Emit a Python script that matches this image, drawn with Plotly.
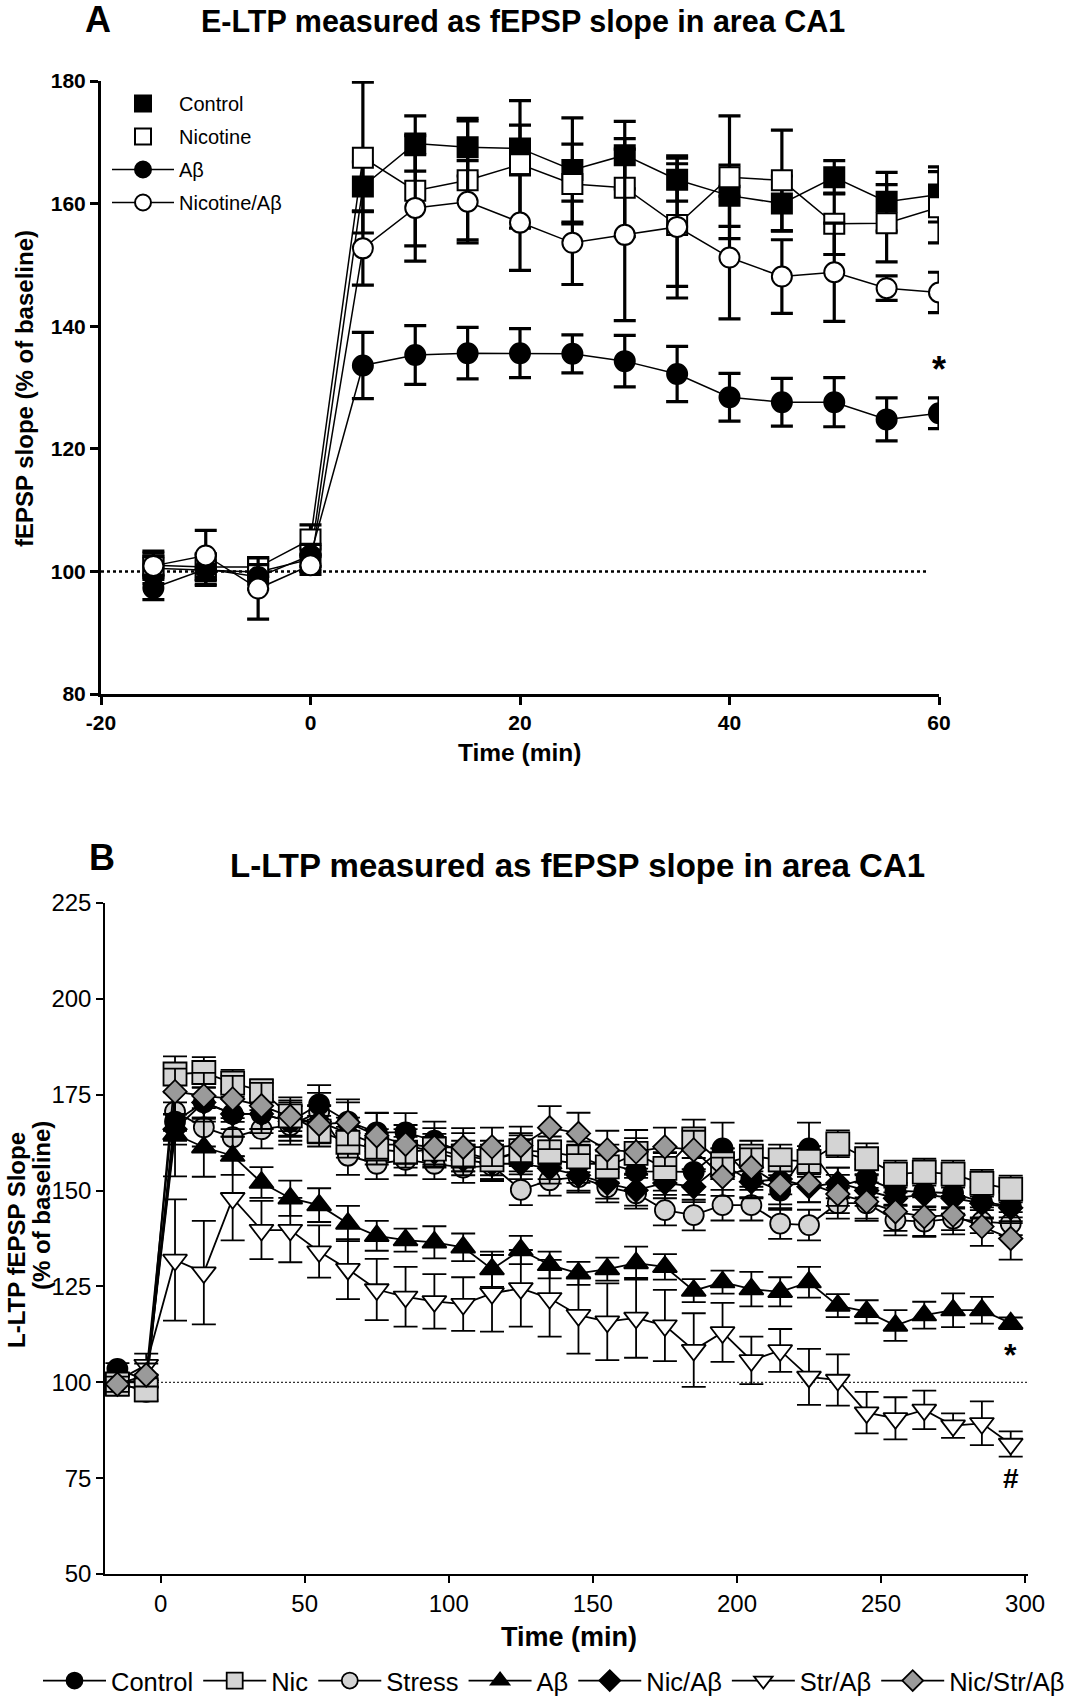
import plotly.graph_objects as go

# ---------------- Panel A data (E-LTP) ----------------
a_time = [-15, -10, -5, 0, 5, 10, 15, 20, 25, 30, 35, 40, 45, 50, 55, 60]
a_control = [100.5, 100.2, 99.9, 102.0, 162.8, 169.8, 169.2, 169.0, 165.5, 167.9, 163.9, 161.3, 160.0, 164.3, 160.3, 161.5]
a_control_err = [2.5, 2.5, 2.0, 2.0, 4.0, 4.5, 4.7, 3.8, 8.5, 5.5, 3.5, 5.0, 4.5, 2.7, 4.8, 4.5]
a_nicotine = [101.0, 100.7, 100.7, 105.2, 167.5, 162.1, 163.8, 166.4, 163.2, 162.6, 156.5, 164.3, 163.8, 156.7, 156.8, 159.4]
a_nicotine_err = [2.3, 2.0, 1.5, 2.4, 12.3, 9.0, 9.7, 10.4, 6.5, 8.0, 10.0, 10.0, 8.2, 5.0, 6.3, 5.8]
a_abeta = [97.3, 100.4, 99.1, 102.6, 133.6, 135.3, 135.6, 135.6, 135.5, 134.3, 132.2, 128.4, 127.6, 127.6, 124.8, 125.8]
a_abeta_err = [1.9, 2.5, 2.0, 1.8, 5.4, 4.8, 4.2, 4.0, 3.1, 4.2, 4.5, 3.9, 3.9, 4.0, 3.5, 2.5]
a_nic_abeta = [100.9, 102.6, 97.2, 101.0, 152.7, 159.3, 160.3, 156.9, 153.6, 154.9, 156.2, 151.2, 148.1, 148.8, 146.2, 145.5]
a_nic_abeta_err = [1.5, 4.1, 5.0, 1.5, 6.0, 8.7, 6.7, 7.8, 6.8, 14.0, 11.6, 10.0, 6.0, 8.0, 2.0, 3.3]
a_xticks = [-20, 0, 20, 40, 60]
a_xticklabels = ["-20", "0", "20", "40", "60"]
a_yticks = [80, 100, 120, 140, 160, 180]

# ---------------- Panel B data (L-LTP) ----------------
b_time = [-15, -5, 5, 15, 25, 35, 45, 55, 65, 75, 85, 95, 105, 115, 125, 135,
          145, 155, 165, 175, 185, 195, 205, 215, 225, 235, 245, 255, 265, 275, 285, 295]
b_control = [103.5, 100.5, 168.0, 173.0, 170.0, 170.0, 168.0, 172.5, 168.0, 165.2, 165.2, 163.0,
             160.0, 158.0, 160.0, 158.0, 157.0, 157.0, 155.0, 155.0, 154.9, 161.0, 153.0, 150.0,
             161.0, 151.0, 153.2, 150.0, 149.7, 149.3, 147.0, 146.0]
b_control_err = [1.5, 1.5, 5.0, 5.0, 6.0, 5.0, 5.0, 5.0, 5.0, 5.0, 5.0, 5.0, 5.0, 5.0, 5.0, 5.0,
                 5.0, 5.0, 5.0, 5.0, 6.0, 6.7, 5.0, 5.0, 6.7, 5.0, 5.0, 4.0, 4.0, 4.0, 4.0, 4.0]
b_nic = [99.5, 98.0, 180.4, 180.8, 178.0, 176.0, 169.5, 165.5, 162.6, 160.8, 160.0, 160.8,
         159.0, 158.0, 160.4, 160.1, 158.8, 156.2, 159.7, 155.8, 163.5, 157.0, 159.0, 158.0,
         157.6, 162.2, 158.3, 154.3, 154.8, 154.3, 151.9, 150.4]
b_nic_err = [3.0, 3.0, 4.6, 4.0, 3.5, 3.0, 4.0, 4.0, 4.0, 4.0, 4.0, 4.0, 4.0, 4.0, 4.0, 4.0,
             4.0, 4.0, 4.0, 4.0, 5.0, 4.0, 4.0, 4.0, 4.0, 3.5, 4.0, 3.5, 3.5, 3.5, 3.5, 3.5]
b_stress = [100.0, 97.5, 170.6, 166.5, 163.9, 166.0, 167.0, 170.5, 159.1, 157.0, 158.0, 157.0,
            156.0, 156.5, 150.2, 152.7, 153.5, 150.9, 149.3, 144.9, 143.6, 146.2, 146.2, 141.4,
            141.0, 146.7, 146.7, 142.3, 141.9, 142.7, 141.9, 141.4]
b_stress_err = [2.0, 2.0, 5.0, 5.0, 5.0, 5.0, 5.0, 5.0, 5.0, 4.0, 4.0, 4.0, 4.0, 4.0, 4.0, 4.0,
                4.0, 4.0, 4.0, 4.0, 4.0, 4.0, 4.0, 4.0, 4.0, 4.0, 4.0, 4.0, 4.0, 3.0, 3.0, 3.0]
b_abeta = [100.0, 100.0, 164.7, 161.3, 159.1, 152.1, 148.0, 146.2, 141.4, 138.2, 137.1, 136.5,
           135.2, 129.5, 134.5, 130.6, 128.4, 129.5, 131.1, 130.1, 123.9, 126.1, 124.3, 123.6,
           126.1, 120.0, 118.4, 114.8, 117.5, 118.8, 118.8, 115.4]
b_abeta_err = [1.5, 1.5, 11.0, 7.7, 5.0, 4.0, 4.6, 4.4, 4.6, 3.9, 3.0, 4.2, 3.6, 4.6, 3.7, 3.5,
               3.0, 3.0, 4.3, 3.3, 3.0, 3.0, 4.5, 3.8, 4.0, 3.0, 3.0, 4.0, 3.5, 4.4, 3.5, 1.5]
b_nic_abeta = [100.0, 100.5, 166.0, 173.0, 170.0, 170.0, 168.0, 168.0, 165.0, 162.0, 162.0, 160.0,
               158.0, 157.0, 157.0, 155.8, 154.0, 151.9, 150.1, 152.0, 151.0, 157.0, 152.3, 153.0,
               151.0, 152.0, 150.0, 148.0, 149.0, 148.0, 146.7, 145.5]
b_nic_abeta_err = [1.5, 1.5, 4.0, 4.0, 4.0, 4.0, 4.0, 4.0, 4.0, 4.0, 4.0, 4.0, 4.0, 4.0, 4.0, 4.0,
                   4.0, 4.0, 4.0, 4.0, 4.0, 4.0, 4.0, 4.0, 4.0, 4.0, 4.0, 4.0, 4.0, 4.0, 4.0, 4.0]
b_str_abeta = [100.5, 104.5, 131.9, 128.6, 148.0, 139.7, 139.7, 134.1, 129.5, 124.2, 122.3, 121.1,
               120.4, 123.2, 124.5, 121.9, 117.5, 115.8, 116.8, 114.8, 108.4, 113.0, 105.7, 108.3,
               101.4, 100.6, 92.1, 90.6, 92.8, 88.7, 89.3, 83.9]
b_str_abeta_err = [2.0, 3.0, 15.8, 13.5, 11.0, 7.6, 8.4, 6.8, 7.8, 8.0, 7.8, 7.1, 7.0, 10.0, 10.0, 10.0,
                   10.0, 10.0, 10.4, 9.3, 9.6, 7.7, 6.2, 5.6, 7.3, 6.7, 5.4, 5.5, 5.0, 3.2, 5.7, 3.3]
b_nic_str_abeta = [99.5, 101.9, 175.8, 174.7, 173.9, 172.1, 169.3, 167.3, 167.8, 164.3, 162.1, 161.3,
                   161.3, 161.4, 161.7, 166.4, 164.9, 160.6, 160.1, 161.4, 160.6, 153.6, 156.0, 151.4,
                   151.9, 149.1, 147.1, 144.5, 143.2, 143.6, 140.6, 137.5]
b_nic_str_abeta_err = [2.0, 3.0, 6.0, 6.0, 6.0, 6.0, 5.0, 5.0, 6.0, 6.0, 5.0, 5.0, 5.0, 5.0, 5.0, 5.6,
                       5.4, 5.0, 5.7, 5.0, 5.0, 5.0, 5.0, 5.0, 5.0, 5.0, 5.0, 5.0, 5.0, 5.0, 5.0, 5.5]
b_xticks = [0, 50, 100, 150, 200, 250, 300]
b_yticks = [50, 75, 100, 125, 150, 175, 200, 225]

BASELINE = 100

FONT = "Liberation Sans, Arial, Helvetica, sans-serif"
W, H = 1081, 1700


def px(x):
    return x / W


def py(y):
    return (H - y) / H


fig = go.Figure()

# ---------- Panel A traces ----------
a_series = [
    ("Control", a_control, a_control_err, "square", "black", "markers"),
    ("Nicotine", a_nicotine, a_nicotine_err, "square", "white", "markers"),
    ("A\u03b2", a_abeta, a_abeta_err, "circle", "black", "lines+markers"),
    ("Nicotine/A\u03b2", a_nic_abeta, a_nic_abeta_err, "circle", "white", "lines+markers"),
]
for name, vals, err, sym, fill, legmode in a_series:
    fig.add_trace(go.Scatter(
        x=a_time, y=vals, mode="lines+markers", name=name, showlegend=False,
        xaxis="x", yaxis="y",
        line=dict(color="black", width=1.5),
        marker=dict(symbol=sym, size=20, color=fill, line=dict(color="black", width=2)),
        error_y=dict(type="data", array=err, visible=True, color="black", thickness=3.2, width=11),
    ))
for i, (name, vals, err, sym, fill, legmode) in enumerate(a_series):
    fig.add_trace(go.Scatter(
        x=[None], y=[None], mode=legmode, name=name, legend="legend",
        legendgroup="a%d" % i, xaxis="x", yaxis="y",
        line=dict(color="black", width=1.5),
        marker=dict(symbol=sym, size=20, color=fill, line=dict(color="black", width=2)),
    ))

# ---------- Panel B traces (draw order) ----------
b_series = [
    ("Stress", b_stress, b_stress_err, "circle", "#d4d4d4", 20, 3),
    ("Control", b_control, b_control_err, "circle", "black", 20, 1),
    ("Nic/A\u03b2", b_nic_abeta, b_nic_abeta_err, "diamond", "black", 18, 5),
    ("A\u03b2", b_abeta, b_abeta_err, "triangle-up", "black", 21, 4),
    ("Str/A\u03b2", b_str_abeta, b_str_abeta_err, "triangle-down", "white", 21, 6),
    ("Nic", b_nic, b_nic_err, "square", "#d4d4d4", 23, 2),
    ("Nic/Str/A\u03b2", b_nic_str_abeta, b_nic_str_abeta_err, "diamond", "#9a9a9a", 18, 7),
]
for name, vals, err, sym, fill, size, rank in b_series:
    fig.add_trace(go.Scatter(
        x=b_time, y=vals, mode="lines+markers", name=name, legend="legend2",
        legendrank=rank, xaxis="x2", yaxis="y2",
        line=dict(color="black", width=1.8),
        marker=dict(symbol=sym, size=size, color=fill, line=dict(color="black", width=1.8)),
        error_y=dict(type="data", array=err, visible=True, color="black", thickness=1.8, width=12),
    ))

axis_common = dict(showgrid=False, zeroline=False, showline=True, linecolor="black",
                   ticks="outside", tickcolor="black", mirror=False)

fig.update_layout(
    width=W, height=H,
    margin=dict(l=0, r=0, t=0, b=0, autoexpand=False),
    paper_bgcolor="white", plot_bgcolor="white",
    font=dict(family=FONT, color="black"),
    xaxis=dict(domain=[px(101), px(939)], range=[-20, 60], anchor="y",
               tickvals=a_xticks, ticktext=a_xticklabels, linewidth=3, tickwidth=3, ticklen=8,
               tickfont=dict(size=21, family=FONT, weight="bold"), **axis_common),
    yaxis=dict(domain=[py(694), py(81)], range=[80, 180], anchor="x",
               tickvals=a_yticks, linewidth=3, tickwidth=3, ticklen=8,
               tickfont=dict(size=21, family=FONT, weight="bold"), **axis_common),
    xaxis2=dict(domain=[px(105), px(1028)], range=[-19.3, 301], anchor="y2",
                tickvals=b_xticks, linewidth=1.8, tickwidth=1.5, ticklen=7,
                tickfont=dict(size=24, family=FONT), **axis_common),
    yaxis2=dict(domain=[py(1574), py(903)], range=[50, 225], anchor="x2",
                tickvals=b_yticks, linewidth=1.5, tickwidth=1.5, ticklen=7,
                tickfont=dict(size=24, family=FONT), **axis_common),
    legend=dict(x=px(107), y=py(84), xanchor="left", yanchor="top",
                font=dict(size=20, family=FONT), bgcolor="rgba(0,0,0,0)",
                itemwidth=62, tracegroupgap=4, itemclick=False),
    legend2=dict(orientation="h", x=px(38), y=py(1681), xanchor="left", yanchor="middle",
                 font=dict(size=25.5, family=FONT), bgcolor="rgba(0,0,0,0)",
                 itemwidth=63, traceorder="normal"),
)

# reference (baseline) dotted lines
fig.add_shape(type="line", xref="x", yref="y", x0=-20, x1=59, y0=BASELINE, y1=BASELINE,
              line=dict(color="black", width=2.5, dash="dot"), layer="below")
fig.add_shape(type="line", xref="x2", yref="y2", x0=-19.3, x1=303, y0=BASELINE, y1=BASELINE,
              line=dict(color="#333333", width=1.3, dash="2px,2px"), layer="below")

ann = []
# Titles / panel letters
ann.append(dict(text="<b>A</b>", x=px(98), y=py(20), font=dict(size=36)))
ann.append(dict(text="<b>E-LTP measured as fEPSP slope in area CA1</b>", x=px(523), y=py(22),
                font=dict(size=30.5)))
ann.append(dict(text="<b>B</b>", x=px(102), y=py(857), font=dict(size=36)))
ann.append(dict(text="<b>L-LTP measured as fEPSP slope in area CA1</b>", x=px(577), y=py(865),
                font=dict(size=33)))
# Axis titles
ann.append(dict(text="<b>Time (min)</b>", x=px(519), y=py(752), font=dict(size=24.5)))
ann.append(dict(text="<b>fEPSP slope (% of baseline)</b>", x=px(24), y=py(389),
                font=dict(size=24), textangle=-90))
ann.append(dict(text="<b>Time (min)</b>", x=px(569), y=py(1637), font=dict(size=27)))
ann.append(dict(text="<b>L-LTP fEPSP Slope</b>", x=px(16), y=py(1240),
                font=dict(size=24), textangle=-90))
ann.append(dict(text="<b>(% of baseline)</b>", x=px(41), y=py(1206),
                font=dict(size=24), textangle=-90))
for a in ann:
    a.update(xref="paper", yref="paper", showarrow=False, xanchor="center", yanchor="middle")
    a["font"]["family"] = FONT
    a["font"]["color"] = "black"

# Significance marks (data-referenced)
ann.append(dict(text="<b>*</b>", x=60, y=133, xref="x", yref="y", showarrow=False,
                font=dict(size=36, family=FONT, color="black")))
ann.append(dict(text="<b>*</b>", x=295, y=107, xref="x2", yref="y2", showarrow=False,
                font=dict(size=32, family=FONT, color="black")))
ann.append(dict(text="<b>#</b>", x=295, y=75, xref="x2", yref="y2", showarrow=False,
                font=dict(size=28, family=FONT, color="black")))

fig.update_layout(annotations=ann)

# the page's default body margin would offset the figure; remove it
fig.write_html("out.html", config={"displayModeBar": False},
               post_script="document.body.style.margin='0px';")
